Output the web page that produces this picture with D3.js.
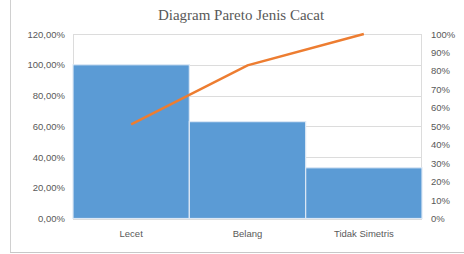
<!DOCTYPE html>
<html>
<head>
<meta charset="utf-8">
<script src="https://cdn.jsdelivr.net/npm/d3@7/dist/d3.min.js"></script>
<style>
  body { margin: 0; background: #fff; }
</style>
</head>
<body>
<script>
// data
const kategori = ["Lecet", "Belang", "Tidak Simetris"];
const nilaiBatang = [100, 63, 33];       // left axis, %
const kumulatif = [51, 83, 100];          // right axis, %
const tickKiri = [0, 20, 40, 60, 80, 100, 120];
const tickKanan = [0, 10, 20, 30, 40, 50, 60, 70, 80, 90, 100];

const W = 464, H = 254;
const kiri = 73, kanan = 422, atas = 34, bawah = 218.5;

const svg = d3.select("body").append("svg")
    .attr("width", W)
    .attr("height", H);

// chart frame (only left and bottom visible)
svg.append("line").attr("x1", 10.5).attr("x2", 10.5).attr("y1", 0).attr("y2", 252.5)
    .attr("stroke", "#d0d0d0");
svg.append("line").attr("x1", 10).attr("x2", W).attr("y1", 252.5).attr("y2", 252.5)
    .attr("stroke", "#c8c8c8");

svg.append("text")
    .attr("x", 241)
    .attr("y", 20)
    .attr("text-anchor", "middle")
    .style("font-family", "Liberation Serif, serif")
    .style("font-size", "15px")
    .style("fill", "#595959")
    .text("Diagram Pareto Jenis Cacat");

const x = d3.scaleBand()
    .domain(kategori)
    .range([kiri, kanan])
    .padding(0);

const yL = d3.scaleLinear().domain([0, 120]).range([bawah, atas]);
const yR = d3.scaleLinear().domain([0, 100]).range([bawah, atas]);

// grid
svg.append("g")
    .selectAll("line")
    .data(tickKiri)
    .join("line")
    .attr("x1", kiri).attr("x2", kanan)
    .attr("y1", d => Math.round(yL(d)) + 0.5)
    .attr("y2", d => Math.round(yL(d)) + 0.5)
    .attr("stroke", "#dcdcdc");

// plot border sides
svg.append("line").attr("x1", kiri + 0.5).attr("x2", kiri + 0.5)
    .attr("y1", atas).attr("y2", bawah).attr("stroke", "#dcdcdc");
svg.append("line").attr("x1", kanan - 0.5).attr("x2", kanan - 0.5)
    .attr("y1", atas).attr("y2", bawah).attr("stroke", "#dcdcdc");

// bars
svg.append("g")
    .selectAll("rect")
    .data(nilaiBatang)
    .join("rect")
    .attr("x", (d, i) => x(kategori[i]))
    .attr("y", d => yL(d))
    .attr("width", x.bandwidth())
    .attr("height", d => bawah - yL(d))
    .attr("fill", "#5b9bd5")
    .attr("stroke", "#dce8f5")
    .attr("stroke-width", 1.2);

// cumulative line
svg.append("path")
    .datum(kumulatif)
    .attr("fill", "none")
    .attr("stroke", "#ed7d31")
    .attr("stroke-width", 2.5)
    .attr("d", d3.line()
        .x((d, i) => x(kategori[i]) + x.bandwidth() / 2)
        .y(d => yR(d)));

// axes
const fmtKiri = d => d.toFixed(2).replace(".", ",") + "%";

const axL = svg.append("g")
    .attr("transform", `translate(${kiri - 8},0)`)
    .call(d3.axisLeft(yL).tickValues(tickKiri).tickFormat(fmtKiri).tickSize(0));
const axR = svg.append("g")
    .attr("transform", `translate(${kanan + 9},0)`)
    .call(d3.axisRight(yR).tickValues(tickKanan).tickFormat(d => d + "%").tickSize(0));
const axB = svg.append("g")
    .attr("transform", `translate(0,${bawah + 9})`)
    .call(d3.axisBottom(x).tickSize(0));

[axL, axR, axB].forEach(a => {
  a.select(".domain").remove();
  a.selectAll("text")
    .style("font-family", "Liberation Sans, Arial, sans-serif")
    .style("font-size", "9.5px")
    .style("fill", "#595959");
});
axL.selectAll("text").attr("x", 0);
axR.selectAll("text").attr("x", 0);
</script>
</body>
</html>
